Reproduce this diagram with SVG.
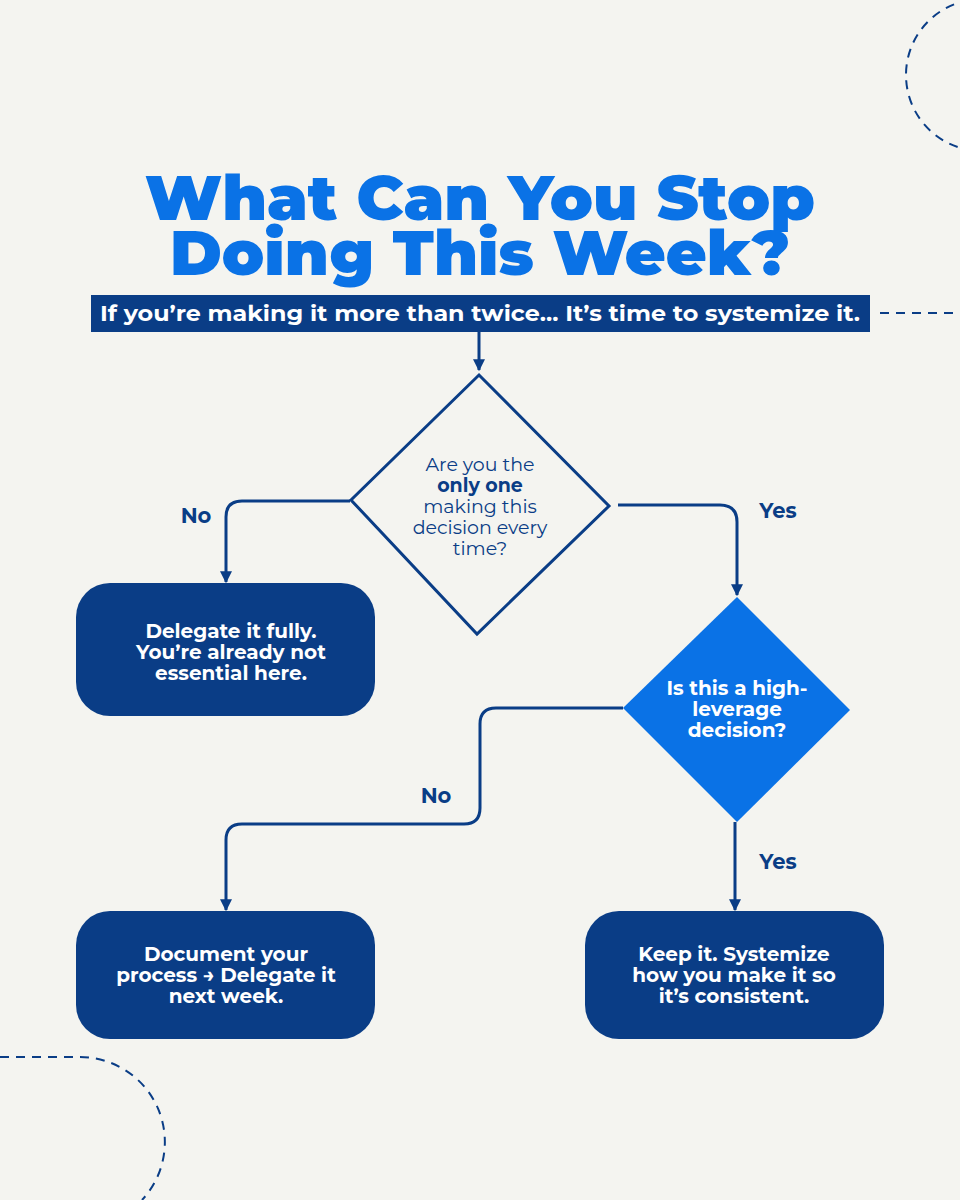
<svg xmlns="http://www.w3.org/2000/svg" width="960" height="1200" viewBox="0 0 960 1200">
<defs>
<marker id="a" viewBox="0 0 10 10" refX="9" refY="5" markerWidth="12" markerHeight="12" orient="auto" markerUnits="userSpaceOnUse"><path d="M0,0 L10,5 L0,10 Z" fill="#0a3d86"/></marker>
</defs>
<style>
.t{font-family:"Montserrat","Liberation Sans",Arial,sans-serif}
.title{font-size:62px;font-weight:900;fill:#0a72e6;text-anchor:middle}
.box{fill:#0a3d86}
.bt{font-size:20px;font-weight:bold;fill:#fff;text-anchor:middle}
.lbl{font-size:21px;font-weight:bold;fill:#0a3d86;text-anchor:middle}
.c{fill:none;stroke:#0a3d86;stroke-width:3}
.d{fill:none;stroke:#0a3d86;stroke-width:2;stroke-dasharray:9 7}
</style>
<rect width="960" height="1200" fill="#f4f4f0"/>
<circle cx="982" cy="75" r="76" class="d"/>
<path class="d" d="M0,1057 H80 A85,85 0 0 1 142,1200"/>
<line x1="880" y1="313" x2="960" y2="313" class="d"/>
<g id="title">
<text class="t title" x="480" y="220" textLength="670" lengthAdjust="spacingAndGlyphs">What Can You Stop</text>
<text class="t title" x="480" y="275" textLength="620" lengthAdjust="spacingAndGlyphs">Doing This Week?</text>
</g>
<g id="banner">
<rect x="91" y="295" width="779" height="37" fill="#0a3d86"/>
<text class="t" x="480" y="321" font-size="21" font-weight="bold" fill="#fff" text-anchor="middle" textLength="760" lengthAdjust="spacingAndGlyphs">If you’re making it more than twice... It’s time to systemize it.</text>
</g>
<g id="connectors">
<path class="c" d="M479,332 V370" marker-end="url(#a)"/>
<path class="c" d="M350,501 H242 Q226,501 226,517 V582" marker-end="url(#a)"/>
<path class="c" d="M618,505 H720 Q737,505 737,522 V595" marker-end="url(#a)"/>
<path class="c" d="M623,708 H496 Q480,708 480,724 V808 Q480,824 464,824 H242 Q226,824 226,840 V910" marker-end="url(#a)"/>
<path class="c" d="M735,822 V910" marker-end="url(#a)"/>
<text class="t lbl" x="196" y="523">No</text>
<text class="t lbl" x="778" y="518">Yes</text>
<text class="t lbl" x="436" y="803">No</text>
<text class="t lbl" x="778" y="869">Yes</text>
</g>
<g id="q1">
<polygon points="479,375 609,506 477,634 351,500" fill="none" stroke="#0a3d86" stroke-width="3"/>
<text class="t" font-size="19" fill="#0a3d86" text-anchor="middle"><tspan x="480" y="471">Are you the</tspan><tspan x="480" y="492" font-weight="bold">only one</tspan><tspan x="480" y="513">making this</tspan><tspan x="480" y="534">decision every</tspan><tspan x="480" y="555">time?</tspan></text>
</g>
<g id="q2">
<polygon points="737,597 850,710 737,822 623,708" fill="#0a72e6"/>
<text class="t bt" font-size="19"><tspan x="737" y="695">Is this a high-</tspan><tspan x="737" y="716">leverage</tspan><tspan x="737" y="737">decision?</tspan></text>
</g>
<g id="delegate">
<rect class="box" x="76" y="583" width="299" height="133" rx="34"/>
<text class="t bt"><tspan x="231" y="638">Delegate it fully.</tspan><tspan x="231" y="659">You’re already not</tspan><tspan x="231" y="680">essential here.</tspan></text>
</g>
<g id="document">
<rect class="box" x="76" y="911" width="299" height="128" rx="34"/>
<text class="t bt"><tspan x="226" y="961">Document your</tspan><tspan x="226" y="982">process → Delegate it</tspan><tspan x="226" y="1003">next week.</tspan></text>
</g>
<g id="keep">
<rect class="box" x="585" y="911" width="299" height="128" rx="34"/>
<text class="t bt"><tspan x="734" y="961">Keep it. Systemize</tspan><tspan x="734" y="982">how you make it so</tspan><tspan x="734" y="1003">it’s consistent.</tspan></text>
</g>
</svg>
